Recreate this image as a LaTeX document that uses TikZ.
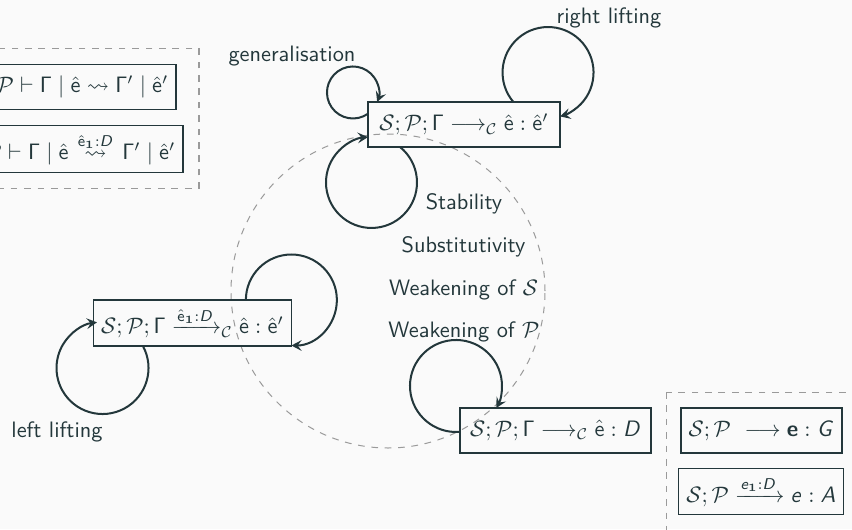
\documentclass[tikz,border=0pt]{standalone}
\usepackage{amsmath,amssymb}
\usetikzlibrary{arrows.meta,calc}
\renewcommand\familydefault{\sfdefault}
\DeclareMathAlphabet{\mathsfit}{OT1}{cmss}{m}{sl}
\DeclareMathAlphabet{\mathsfbf}{OT1}{cmss}{bx}{n}
\newcommand\he{\hat{\mathsf{e}}}
\newcommand\Gm{\mathsf{\Gamma}}
\newlength\pxu
\setlength\pxu{0.448pt}
\definecolor{ink}{HTML}{23373B}
\definecolor{paper}{HTML}{FAFAFA}
\definecolor{faint}{HTML}{9A9A9A}
\tikzset{
  judg/.style={draw=ink, line width=0.5pt, text=ink, outer sep=0pt,
    inner xsep=3.4pt, minimum height=45\pxu},
  lbl/.style={text=ink, anchor=base, inner sep=0pt},
  loopline/.style={draw=ink, line width=0.9pt,
    -{Stealth[length=4.6pt,width=4.8pt,inset=1.8pt]}},
  region/.style={draw=faint, line width=0.45pt, dashed},
}
\begin{document}
\begin{tikzpicture}[x=0.448pt, y=0.448pt]
\useasboundingbox (0,0) rectangle (852,529);
\fill[paper] (0,0) rectangle (852,529);
\clip (0,0) rectangle (852,529);

% grouping regions
\draw[region] (-10,481) rectangle (199,341);
\draw[region] (666,137) rectangle (870,-10);
\draw[region] (388,238) circle[radius=157];

% judgement forms
\node[judg, anchor=east] (tla) at (176,442)
  {$\mathcal{S};\mathcal{P} \vdash \Gm \mid \he \leadsto \Gm' \mid \he'$};
\node[judg, anchor=east, minimum height=47\pxu] (tlb) at (183,380)
  {$\mathcal{S};\mathcal{P} \vdash \Gm \mid \he \mathrel{\overset{\,\he_{\mathbf{1}}:\mathsfit{D}\,}{\leadsto}} \Gm' \mid \he'$};

\node[judg, minimum width=192\pxu] (top) at (464,404.5)
  {$\mathcal{S};\mathcal{P};\Gm \longrightarrow_{\mathcal{C}} \he : \he'$};
\node[judg, minimum width=191\pxu, minimum height=46\pxu] (lft) at (192.5,206)
  {$\mathcal{S};\mathcal{P};\Gm \xrightarrow{\he_{\mathbf{1}}:\mathsfit{D}}_{\mathcal{C}} \he : \he'$};
\node[judg, minimum width=191\pxu] (bot) at (555.5,98.5)
  {$\mathcal{S};\mathcal{P};\Gm \longrightarrow_{\mathcal{C}} \he : \mathsfit{D}$};

\node[judg, minimum width=159\pxu] (rba) at (761.5,98.5)
  {$\mathcal{S};\mathcal{P}\ \longrightarrow \mathsfbf{e} : \mathsfit{G}$};
\node[judg, minimum width=156\pxu] (rbb) at (761,37.5)
  {$\mathcal{S};\mathcal{P} \xrightarrow{\mathsfit{e}_{\mathbf{1}}:\mathsfit{D}} \mathsfit{e} : \mathsfit{A}$};

% rule names
\node[lbl] (gen) at (292,468) {generalisation};
\node[lbl] (rl) at (609,506) {right lifting};
\node[lbl] (ll) at (57,92) {left lifting};
\node[lbl] (stab) at (464,320) {Stability};
\node[lbl] (subst) at (463.5,277) {Substitutivity};
\node[lbl] (wks) at (463.5,234) {Weakening of $\mathcal{S}$};
\node[lbl] (wkp) at (464,192) {Weakening of $\mathcal{P}$};

% self-loops
\draw[loopline] ($(top.west)+(0,10.8)$)
  arc[start angle=305.3, delta angle=-326.7, radius=26];
\draw[loopline] ($(top.north)+(49.4,0)$)
  arc[start angle=220.4, delta angle=-295.1, radius=45.5];
\draw[loopline] ($(top.south)+(-64,0)$)
  arc[start angle=51.2, delta angle=-316.8, radius=45.5];
\draw[loopline] ($(lft.north east)+(-45.5,0)$)
  arc[start angle=180, delta angle=-270, radius=45.5];
\draw[loopline] ($(lft.south)+(-49.6,0)$)
  arc[start angle=28.6, delta angle=-291.7, radius=46];
\draw[loopline] ($(bot.west)+(0,-1.3)$)
  arc[start angle=-85, delta angle=-303.6, radius=46];
\end{tikzpicture}
\end{document}
